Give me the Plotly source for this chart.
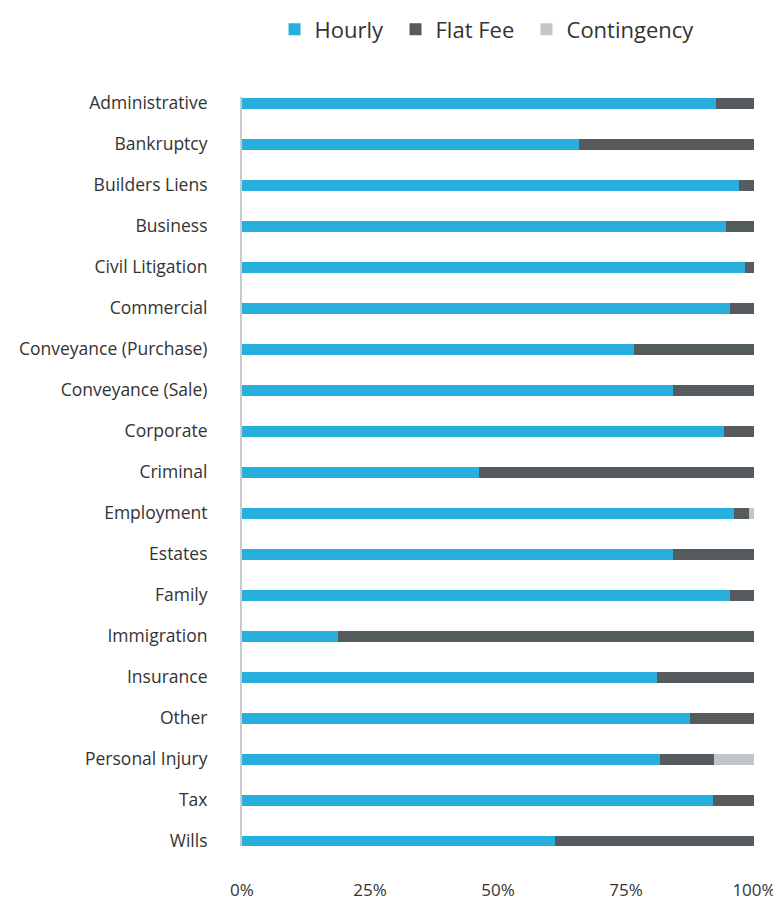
import plotly.graph_objects as go

categories = ["Administrative", "Bankruptcy", "Builders Liens", "Business", "Civil Litigation",
              "Commercial", "Conveyance (Purchase)", "Conveyance (Sale)", "Corporate", "Criminal",
              "Employment", "Estates", "Family", "Immigration", "Insurance", "Other",
              "Personal Injury", "Tax", "Wills"]
hourly = [92.5, 65.9, 97.1, 94.5, 98.3, 95.3, 76.5, 84.2, 94.1, 46.3,
          96.0, 84.2, 95.3, 18.7, 81.1, 87.5, 81.6, 91.9, 61.2]
flat_fee = [7.5, 34.1, 2.9, 5.5, 1.7, 4.7, 23.5, 15.8, 5.9, 53.7,
            3.1, 15.8, 4.7, 81.3, 18.9, 12.5, 10.5, 8.1, 38.8]
contingency = [0, 0, 0, 0, 0, 0, 0, 0, 0, 0,
               0.9, 0, 0, 0, 0, 0, 7.9, 0, 0]
tick_vals = [0, 25, 50, 75, 100]
tick_text = ["0%", "25%", "50%", "75%", "100%"]

series = [("Hourly", hourly, "#29AFDE"),
          ("Flat Fee", flat_fee, "#565B5E"),
          ("Contingency", contingency, "#C2C6CA")]

FONT = "'Open Sans', 'Noto Sans', sans-serif"
TXT = "#333333"

# the page body has an 8px margin, so the figure is sized to the remaining area
W, H = 773, 893
legend_ids = ["legend", "legend2", "legend3"]
legend_x = [0.3448, 0.5013, 0.6708]

fig = go.Figure()
for (name, vals, color), lid in zip(series, legend_ids):
    fig.add_trace(go.Bar(
        y=categories, x=vals, name=name, orientation="h",
        marker=dict(color=color, line=dict(width=0)),
        width=0.27, legend=lid,
    ))

layout_legends = {}
for lid, lx in zip(legend_ids, legend_x):
    layout_legends[lid] = dict(orientation="h", x=lx, xanchor="left", xref="container",
                               y=0.9995, yanchor="top", yref="container",
                               font=dict(size=22, color=TXT), itemwidth=30,
                               bgcolor="rgba(0,0,0,0)")

fig.update_layout(
    barmode="stack",
    width=W, height=H,
    margin=dict(l=233.5, r=27, t=89, b=55, autoexpand=False),
    paper_bgcolor="white", plot_bgcolor="white",
    font=dict(family=FONT, color=TXT, size=17.5),
    showlegend=True,
    xaxis=dict(range=[0, 100], tickvals=tick_vals, ticktext=tick_text,
               showgrid=False, zeroline=False, showline=False, automargin=False,
               tickfont=dict(size=17, color=TXT), ticklabelstandoff=32,
               fixedrange=True),
    yaxis=dict(range=[18.12, -0.15], showgrid=False, zeroline=False, automargin=False,
               showline=True, linecolor="#C8CBCE", linewidth=2,
               tickfont=dict(size=17.5, color=TXT), ticklabelstandoff=29,
               fixedrange=True),
    **layout_legends,
)

fig.write_html("out.html")
